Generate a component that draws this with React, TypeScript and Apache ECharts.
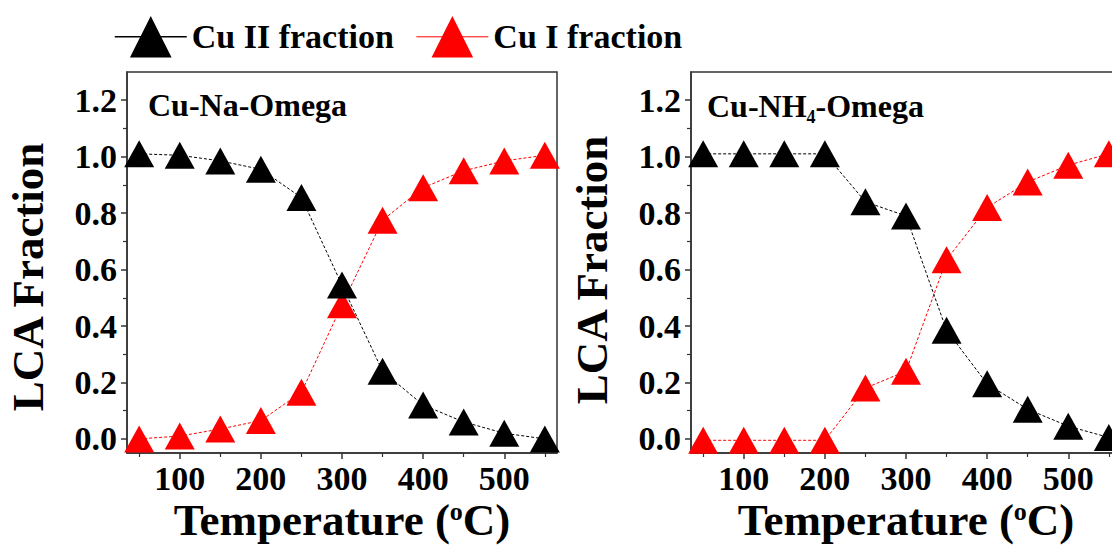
import React, { useEffect, useRef } from "react";
import * as echarts from "echarts";

const temps = [50, 100, 150, 200, 250, 300, 350, 400, 450, 500, 550];
const naCuII = [1.01, 1.005, 0.985, 0.955, 0.855, 0.545, 0.24, 0.12, 0.06, 0.02, 0.0];
const naCuI = [0.0, 0.01, 0.035, 0.065, 0.165, 0.475, 0.775, 0.89, 0.95, 0.985, 1.005];
const nhCuII = [1.01, 1.01, 1.01, 1.01, 0.84, 0.79, 0.385, 0.195, 0.105, 0.045, 0.005];
const nhCuI = [-0.005, -0.005, -0.005, -0.005, 0.18, 0.24, 0.635, 0.82, 0.91, 0.97, 1.01];
const xMajor = [100, 200, 300, 400, 500];
const xMinor = [50, 150, 250, 350, 450, 550];
const yMajor = [0, 0.2, 0.4, 0.6, 0.8, 1.0, 1.2];
const yMinor = [0.1, 0.3, 0.5, 0.7, 0.9, 1.1];
const seriesNames = ["Cu II fraction", "Cu I fraction"];
const panelTitles = ["Cu-Na-Omega", "Cu-NH4-Omega"];

const FONT = '"Liberation Serif", "Times New Roman", serif';
const AXIS_COLOR = "#333";

const pair = (ys: number[]) => temps.map((t, i) => [t, ys[i]]);

export default function App() {
  const ref = useRef<HTMLDivElement>(null);
  useEffect(() => {
    if (!ref.current) return;
    const chart = echarts.init(ref.current, null, { renderer: "svg" });
    const grids = [
      { left: 127, top: 72, width: 430, height: 381 },
      { left: 691, top: 72, width: 430, height: 381 },
    ];
    const xAxes: any[] = [];
    const yAxes: any[] = [];
    grids.forEach((_, g) => {
      const common = { type: "value", min: 35, max: 565, gridIndex: g, splitLine: { show: false } };
      xAxes.push({
        ...common,
        position: "bottom",
        axisLine: { show: true, onZero: false, lineStyle: { color: AXIS_COLOR, width: 1.5 } },
        axisTick: { show: true, customValues: xMajor, length: 6, lineStyle: { color: AXIS_COLOR, width: 1.5 } },
        axisLabel: {
          show: true,
          customValues: xMajor,
          margin: 9,
          color: "#000",
          fontFamily: FONT,
          fontWeight: "bold",
          fontSize: 34,
          lineHeight: 32,
        },
      });
      xAxes.push({
        ...common,
        position: "bottom",
        axisLine: { show: false, onZero: false },
        axisTick: { show: true, customValues: xMinor, length: 4, lineStyle: { color: AXIS_COLOR, width: 1.2 } },
        axisLabel: { show: false },
      });
      const ycommon = { type: "value", min: -0.05, max: 1.3, gridIndex: g, splitLine: { show: false } };
      yAxes.push({
        ...ycommon,
        position: "left",
        axisLine: { show: true, onZero: false, lineStyle: { color: AXIS_COLOR, width: 1.5 } },
        axisTick: { show: true, customValues: yMajor, length: 6, lineStyle: { color: AXIS_COLOR, width: 1.5 } },
        axisLabel: {
          show: true,
          customValues: yMajor,
          margin: 10,
          color: "#000",
          fontFamily: FONT,
          fontWeight: "bold",
          fontSize: 34,
          formatter: (v: number) => v.toFixed(1),
        },
      });
      yAxes.push({
        ...ycommon,
        position: "left",
        axisLine: { show: false, onZero: false },
        axisTick: { show: true, customValues: yMinor, length: 4, lineStyle: { color: AXIS_COLOR, width: 1.2 } },
        axisLabel: { show: false },
      });
    });

    const mk = (name: string, data: number[], color: string, g: number) => ({
      name,
      type: "line",
      xAxisIndex: g * 2,
      yAxisIndex: g * 2,
      data: pair(data),
      symbol: "triangle",
      symbolSize: [30, 27],
      clip: false,
      itemStyle: { color },
      lineStyle: { color, width: 1, type: [3, 2] },
      z: name === seriesNames[0] ? 3 : 2,
    });

    const series = [
      mk(seriesNames[1], naCuI, "#ff0000", 0),
      mk(seriesNames[0], naCuII, "#000000", 0),
      mk(seriesNames[1], nhCuI, "#ff0000", 1),
      mk(seriesNames[0], nhCuII, "#000000", 1),
    ];

    const tempText = (cx: number) => ({
      type: "text",
      x: cx,
      y: 520,
      style: {
        text: "{a|Temperature (}{s|o}{a|C)}",
        align: "center",
        verticalAlign: "middle",
        rich: {
          a: { fontFamily: FONT, fontWeight: "bold", fontSize: 45, lineHeight: 44, fill: "#000" },
          s: { fontFamily: FONT, fontWeight: "bold", fontSize: 26, lineHeight: 26, verticalAlign: "top", fill: "#000" },
        },
      },
    });
    const lcaText = (cx: number, cy: number) => ({
      type: "text",
      x: cx,
      y: cy,
      rotation: Math.PI / 2,
      style: {
        text: "LCA Fraction",
        align: "center",
        verticalAlign: "middle",
        fontFamily: FONT,
        fontWeight: "bold",
        fontSize: 45,
        fill: "#000",
      },
    });

    chart.setOption({
      animation: false,
      backgroundColor: "#fff",
      grid: grids.map((g) => ({
        ...g,
        show: true,
        containLabel: false,
        outerBoundsMode: "none",
        borderColor: AXIS_COLOR,
        borderWidth: 1.5,
        backgroundColor: "transparent",
      })),
      xAxis: xAxes,
      yAxis: yAxes,
      legend: {
        left: 109,
        top: 11,
        padding: 5,
        data: [
          { name: seriesNames[0], lineStyle: { type: "solid", width: 1.5 } },
          { name: seriesNames[1], lineStyle: { type: "solid", width: 1 } },
        ],
        itemWidth: 72,
        itemHeight: 52,
        itemGap: 22,
        textStyle: { fontFamily: FONT, fontWeight: "bold", fontSize: 34, color: "#000", padding: [0, 0, 0, 0] },
      },
      graphic: [
        {
          type: "text",
          x: 148,
          y: 105,
          style: { text: panelTitles[0], fontFamily: FONT, fontWeight: "bold", fontSize: 32, fill: "#000", verticalAlign: "middle" },
        },
        {
          type: "text",
          x: 707,
          y: 106,
          style: {
            text: "{a|Cu-NH}{b|4}{a|-Omega}",
            verticalAlign: "middle",
            rich: {
              a: { fontFamily: FONT, fontWeight: "bold", fontSize: 32, lineHeight: 40, fill: "#000" },
              b: { fontFamily: FONT, fontWeight: "bold", fontSize: 18, lineHeight: 14, verticalAlign: "bottom", fill: "#000" },
            },
          },
        },
        lcaText(28, 277),
        lcaText(592, 270),
        tempText(342),
        tempText(906),
      ],
      series,
    });
    return () => chart.dispose();
  }, []);
  return (
    <div
      ref={ref}
      style={{ position: "absolute", left: 0, top: 0, width: 1112, height: 548, overflow: "hidden" }}
    />
  );
}
